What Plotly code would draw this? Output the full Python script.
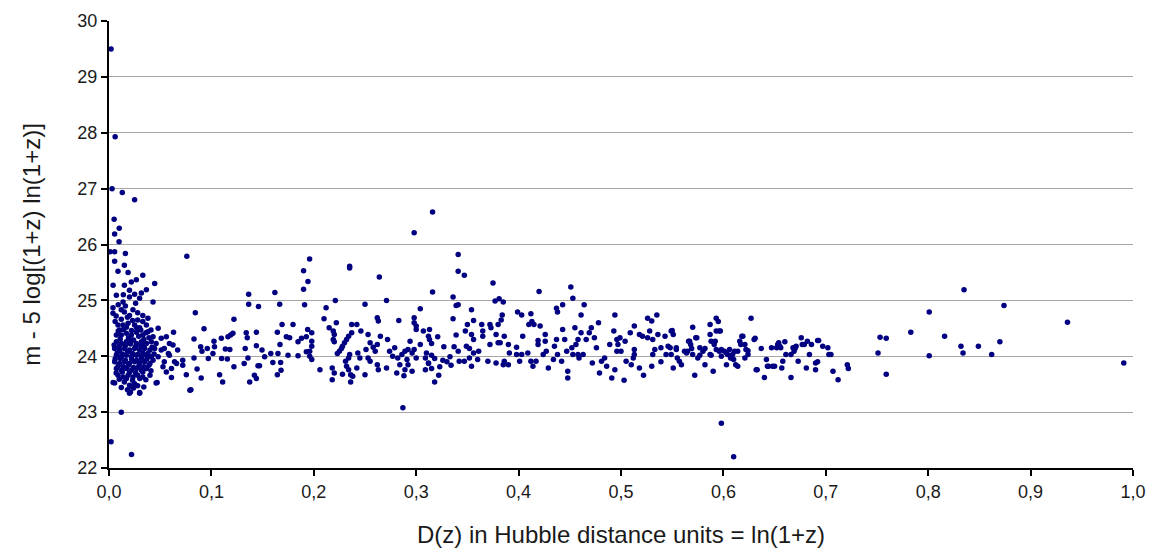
import plotly.graph_objects as go

# ---- data (x = D(z), y = m - 5 log[(1+z) ln(1+z)]) ----
outliers_top = [(0.002, 29.5), (0.006, 27.93), (0.003, 27.0), (0.013, 26.93), (0.025, 26.8),
                (0.005, 26.45), (0.010, 26.29), (0.0055, 26.19), (0.0098, 26.05)]

cluster_a = [(0.001, 25.87), (0.0055, 25.87), (0.0055, 25.7), (0.016, 25.84), (0.015, 25.63),
             (0.0088, 25.52), (0.0186, 25.5), (0.033, 25.45), (0.0267, 25.37), (0.0218, 25.33),
             (0.015, 25.27), (0.0446, 25.3), (0.004, 25.27), (0.0365, 25.19), (0.0316, 25.13),
             (0.025, 25.11), (0.020, 25.06), (0.0072, 25.09), (0.0299, 25.04), (0.043, 24.97),
             (0.0137, 24.97), (0.0039, 24.87), (0.0039, 24.77), (0.012, 24.83), (0.015, 24.79),
             (0.0234, 24.83), (0.020, 24.73), (0.033, 24.73), (0.028, 24.65), (0.0088, 24.56),
             (0.0104, 24.47), (0.0137, 24.56), (0.0186, 24.59), (0.025, 24.56), (0.0299, 24.51),
             (0.0365, 24.56), (0.048, 24.5), (0.063, 24.43)]

cluster_b = [(0.0072, 24.38), (0.012, 24.38), (0.0169, 24.41), (0.0218, 24.38), (0.0267, 24.43),
             (0.033, 24.38), (0.038, 24.44), (0.043, 24.35), (0.051, 24.32), (0.056, 24.35),
             (0.0072, 24.26), (0.012, 24.23), (0.0169, 24.26), (0.0218, 24.29), (0.0267, 24.23),
             (0.0316, 24.26), (0.0365, 24.23), (0.0413, 24.26), (0.046, 24.23), (0.059, 24.23),
             (0.0625, 24.2), (0.0055, 24.14), (0.0104, 24.11), (0.015, 24.14), (0.020, 24.11),
             (0.025, 24.14), (0.0299, 24.11), (0.0348, 24.14), (0.040, 24.11), (0.0446, 24.14),
             (0.051, 24.11), (0.054, 24.14), (0.0072, 24.02), (0.012, 23.99), (0.0169, 24.02),
             (0.0218, 23.99), (0.0267, 24.02), (0.0316, 23.99), (0.0365, 24.02), (0.0413, 23.99),
             (0.048, 23.99), (0.059, 24.02)]

cluster_c = [(0.0055, 23.9), (0.0104, 23.87), (0.015, 23.9), (0.020, 23.87), (0.025, 23.9),
             (0.0299, 23.87), (0.0348, 23.9), (0.040, 23.87), (0.054, 23.9), (0.064, 23.9),
             (0.072, 23.93), (0.0072, 23.78), (0.012, 23.75), (0.0169, 23.78), (0.0218, 23.75),
             (0.0267, 23.78), (0.0316, 23.75), (0.0365, 23.78), (0.0527, 23.81), (0.061, 23.78),
             (0.072, 23.84), (0.0088, 23.66), (0.0137, 23.63), (0.0186, 23.66), (0.0234, 23.63),
             (0.028, 23.66), (0.033, 23.63), (0.040, 23.66), (0.0755, 23.67), (0.0055, 23.52),
             (0.015, 23.54), (0.020, 23.48), (0.025, 23.51), (0.046, 23.52), (0.079, 23.39),
             (0.020, 23.34), (0.0299, 23.34), (0.012, 23.0)]

cluster_d = [(0.006, 24.62), (0.009, 24.45), (0.011, 24.31), (0.014, 24.48), (0.017, 24.52),
             (0.019, 24.33), (0.022, 24.46), (0.024, 24.29), (0.027, 24.51), (0.029, 24.36),
             (0.031, 24.47), (0.034, 24.30), (0.036, 24.42), (0.039, 24.33), (0.041, 24.47),
             (0.005, 24.20), (0.008, 24.06), (0.010, 24.18), (0.013, 24.04), (0.016, 24.19),
             (0.018, 24.07), (0.021, 24.22), (0.023, 24.05), (0.026, 24.17), (0.028, 24.03),
             (0.031, 24.19), (0.033, 24.06), (0.035, 24.21), (0.038, 24.05), (0.042, 24.16),
             (0.044, 24.04), (0.006, 23.95), (0.009, 23.83), (0.011, 23.96), (0.014, 23.81),
             (0.016, 23.93), (0.019, 23.84), (0.022, 23.95), (0.024, 23.80), (0.027, 23.93),
             (0.029, 23.82), (0.032, 23.94), (0.034, 23.81), (0.037, 23.95), (0.039, 23.84),
             (0.043, 23.93), (0.007, 23.70), (0.010, 23.59), (0.013, 23.72), (0.017, 23.60),
             (0.020, 23.71), (0.023, 23.57), (0.026, 23.70), (0.030, 23.60), (0.033, 23.72),
             (0.036, 23.58), (0.041, 23.74), (0.012, 23.44), (0.018, 23.40), (0.024, 23.43),
             (0.028, 23.47), (0.034, 23.45), (0.007, 24.72), (0.012, 24.66), (0.018, 24.70),
             (0.023, 24.64), (0.028, 24.78), (0.033, 24.62), (0.038, 24.68), (0.009, 24.92),
             (0.016, 24.90), (0.026, 24.95), (0.020, 25.18), (0.014, 25.10)]

outliers_low = [(0.002, 22.47), (0.022, 22.24), (0.004, 23.53), (0.030, 23.35), (0.021, 23.36),
                (0.022, 23.46), (0.047, 23.53)]

band_008_020 = [(0.067, 24.11), (0.066, 23.87), (0.056, 23.72), (0.061, 23.62), (0.058, 24.05),
                (0.076, 25.79), (0.0843, 24.78), (0.0928, 24.49), (0.083, 24.31), (0.083, 23.97),
                (0.086, 23.77), (0.090, 23.61), (0.0895, 24.17), (0.0908, 24.09), (0.096, 24.14),
                (0.097, 23.96), (0.1025, 24.27), (0.103, 24.17), (0.1015, 24.05), (0.1097, 24.32),
                (0.110, 23.96), (0.108, 23.67), (0.111, 23.54), (0.1136, 24.13), (0.1162, 24.35),
                (0.1188, 24.38), (0.121, 24.41), (0.122, 24.66), (0.118, 24.12), (0.1156, 23.95),
                (0.122, 23.81), (0.1364, 25.11), (0.1364, 24.93), (0.146, 24.89), (0.134, 24.42),
                (0.135, 24.33), (0.1439, 24.43), (0.133, 24.14), (0.1357, 23.97), (0.132, 23.87),
                (0.1439, 24.19), (0.1455, 23.83), (0.147, 23.83), (0.142, 23.66), (0.1439, 23.6),
                (0.1374, 23.54), (0.1494, 24.11), (0.152, 23.99), (0.158, 24.05), (0.162, 25.14),
                (0.1667, 24.93), (0.1644, 24.43), (0.169, 24.57), (0.1732, 24.35), (0.167, 24.21),
                (0.165, 24.05), (0.160, 23.89), (0.1676, 23.89), (0.1644, 23.67), (0.168, 23.75),
                (0.1748, 24.02), (0.1797, 24.57), (0.1764, 24.33), (0.1846, 24.26), (0.188, 24.32),
                (0.1927, 24.35), (0.1846, 24.01), (0.191, 24.92), (0.1959, 25.74), (0.190, 25.53),
                (0.1943, 25.34), (0.190, 25.2), (0.1927, 24.08), (0.080, 23.40)]

band_020_032 = [(0.235, 25.61), (0.235, 25.58), (0.264, 25.42), (0.298, 26.21), (0.316, 26.58),
                (0.316, 25.15), (0.221, 25.0), (0.271, 25.0), (0.250, 24.93), (0.212, 24.87),
                (0.304, 24.85), (0.210, 24.67), (0.262, 24.69), (0.263, 24.63), (0.283, 24.64),
                (0.298, 24.69), (0.298, 24.6), (0.300, 24.54), (0.300, 24.48), (0.307, 24.45),
                (0.313, 24.48), (0.222, 24.6), (0.215, 24.51), (0.219, 24.45), (0.237, 24.57),
                (0.242, 24.57), (0.246, 24.45), (0.253, 24.39), (0.220, 24.39), (0.237, 24.42),
                (0.234, 24.36), (0.232, 24.3), (0.230, 24.24), (0.228, 24.18), (0.227, 24.14),
                (0.225, 24.09), (0.223, 24.05), (0.219, 24.3), (0.220, 24.26), (0.198, 24.42),
                (0.198, 24.27), (0.198, 24.18), (0.196, 24.09), (0.196, 24.0), (0.198, 23.94),
                (0.235, 24.03), (0.234, 23.97), (0.231, 23.91), (0.232, 23.82), (0.234, 23.76),
                (0.236, 23.67), (0.206, 23.76), (0.218, 23.79), (0.220, 23.7), (0.218, 23.58),
                (0.228, 23.68), (0.236, 23.54), (0.238, 23.64), (0.243, 24.06), (0.245, 23.97),
                (0.251, 24.12), (0.253, 23.97), (0.255, 24.24), (0.260, 24.09), (0.262, 24.21),
                (0.265, 24.36), (0.258, 24.16), (0.255, 23.91), (0.262, 23.85), (0.263, 23.76),
                (0.250, 23.67), (0.242, 23.79), (0.271, 23.79), (0.272, 24.3), (0.274, 24.09),
                (0.279, 24.15), (0.282, 23.97), (0.277, 24.0), (0.281, 23.7), (0.284, 23.85),
                (0.286, 24.03), (0.289, 24.09), (0.291, 23.94), (0.292, 24.12), (0.294, 24.27),
                (0.288, 23.65), (0.289, 23.76), (0.292, 23.85), (0.296, 23.73), (0.296, 24.06),
                (0.298, 24.12), (0.300, 23.97), (0.304, 24.21), (0.310, 24.06), (0.309, 23.97),
                (0.312, 23.88), (0.309, 23.76), (0.313, 24.3), (0.312, 24.36), (0.287, 23.08),
                (0.194, 24.48)]

band_031_034 = [(0.321, 24.35), (0.315, 24.23), (0.315, 24.02), (0.318, 23.96), (0.312, 23.87),
                (0.315, 23.78), (0.323, 23.81), (0.322, 23.66), (0.318, 23.54), (0.327, 24.17),
                (0.326, 23.93), (0.330, 23.90), (0.333, 23.99), (0.334, 23.84), (0.336, 25.06),
                (0.336, 24.67), (0.337, 24.17), (0.339, 24.91), (0.339, 24.38)]

band_034_053 = [(0.341, 25.82), (0.341, 25.52), (0.347, 25.45), (0.341, 24.92), (0.375, 25.31),
                (0.377, 24.99), (0.381, 25.03), (0.385, 24.97), (0.420, 25.16), (0.451, 25.24),
                (0.453, 25.04), (0.464, 24.92), (0.437, 24.86), (0.438, 24.79), (0.443, 24.92),
                (0.461, 24.74), (0.494, 24.74), (0.354, 24.83), (0.356, 24.64), (0.350, 24.57),
                (0.348, 24.45), (0.384, 24.74), (0.383, 24.65), (0.380, 24.57), (0.399, 24.79),
                (0.403, 24.74), (0.412, 24.76), (0.413, 24.62), (0.415, 24.57), (0.410, 24.57),
                (0.421, 24.54), (0.426, 24.39), (0.426, 24.27), (0.419, 24.28), (0.364, 24.57),
                (0.365, 24.45), (0.365, 24.36), (0.372, 24.57), (0.373, 24.51), (0.378, 24.39),
                (0.386, 24.36), (0.390, 24.21), (0.372, 24.21), (0.380, 24.24), (0.382, 24.24),
                (0.356, 24.30), (0.354, 24.39), (0.349, 24.18), (0.352, 24.14), (0.356, 24.06),
                (0.352, 23.97), (0.347, 23.91), (0.354, 23.82), (0.341, 24.09), (0.342, 23.91),
                (0.360, 23.94), (0.361, 24.09), (0.370, 23.91), (0.378, 23.88), (0.385, 23.85),
                (0.390, 23.85), (0.386, 23.91), (0.391, 24.06), (0.398, 24.16), (0.398, 24.03),
                (0.403, 24.03), (0.401, 23.91), (0.404, 24.36), (0.409, 24.06), (0.412, 23.91),
                (0.414, 23.82), (0.417, 23.91), (0.419, 24.21), (0.424, 24.03), (0.427, 24.09),
                (0.429, 23.79), (0.434, 23.94), (0.435, 24.18), (0.437, 24.30), (0.438, 24.03),
                (0.442, 23.91), (0.443, 24.48), (0.445, 24.30), (0.447, 24.09), (0.448, 23.73),
                (0.448, 23.61), (0.452, 24.15), (0.453, 24.03), (0.455, 24.51), (0.456, 24.21),
                (0.458, 24.30), (0.458, 24.03), (0.459, 23.97), (0.463, 24.03), (0.461, 24.42),
                (0.466, 24.30), (0.469, 24.42), (0.471, 24.51), (0.474, 24.33), (0.478, 24.60),
                (0.472, 23.88), (0.476, 24.15), (0.479, 23.70), (0.481, 23.91), (0.484, 23.97),
                (0.486, 23.82), (0.489, 24.21), (0.491, 23.61), (0.493, 24.45), (0.494, 23.76),
                (0.496, 24.30), (0.497, 24.21), (0.499, 24.33), (0.496, 24.09), (0.500, 24.09),
                (0.503, 23.57), (0.504, 24.27), (0.505, 23.91), (0.509, 24.42), (0.510, 23.85),
                (0.513, 24.54), (0.513, 24.12), (0.513, 24.03), (0.512, 23.97), (0.518, 24.39),
                (0.521, 24.36), (0.518, 23.79), (0.522, 23.66)]

band_053_072 = [(0.526, 24.68), (0.530, 24.63), (0.535, 24.74), (0.528, 24.45), (0.526, 24.33),
                (0.531, 24.30), (0.533, 24.12), (0.531, 24.03), (0.530, 23.82), (0.536, 24.39),
                (0.539, 24.15), (0.539, 23.90), (0.543, 24.36), (0.544, 24.03), (0.548, 24.15),
                (0.549, 24.45), (0.551, 24.39), (0.549, 24.03), (0.551, 23.79), (0.554, 24.15),
                (0.555, 23.97), (0.557, 23.91), (0.559, 23.85), (0.562, 24.09), (0.565, 24.09),
                (0.567, 24.27), (0.568, 24.21), (0.570, 24.52), (0.570, 24.03), (0.572, 23.66),
                (0.573, 24.33), (0.575, 23.97), (0.577, 24.15), (0.580, 24.09), (0.582, 23.85),
                (0.587, 24.57), (0.587, 24.39), (0.587, 24.03), (0.588, 24.27), (0.590, 23.73),
                (0.591, 24.21), (0.593, 24.68), (0.595, 24.62), (0.593, 24.45), (0.596, 24.45),
                (0.593, 24.12), (0.596, 24.09), (0.598, 24.00), (0.601, 24.09), (0.603, 23.85),
                (0.604, 24.03), (0.606, 24.12), (0.607, 23.97), (0.609, 24.03), (0.610, 23.94),
                (0.612, 23.85), (0.614, 23.82), (0.614, 24.09), (0.617, 24.21), (0.619, 24.36),
                (0.621, 23.97), (0.624, 24.03), (0.622, 24.12), (0.627, 24.68), (0.630, 24.30),
                (0.632, 23.76), (0.633, 23.76), (0.637, 24.14), (0.640, 23.62), (0.642, 23.94),
                (0.643, 23.82), (0.647, 24.15), (0.648, 23.82), (0.652, 24.15), (0.654, 24.24),
                (0.655, 24.18), (0.657, 23.79), (0.658, 23.91), (0.660, 24.26), (0.661, 24.03),
                (0.666, 23.62), (0.666, 24.03), (0.668, 24.15), (0.669, 24.09), (0.671, 24.18),
                (0.673, 23.91), (0.676, 24.33), (0.677, 24.21), (0.681, 23.79), (0.682, 24.27),
                (0.684, 24.03), (0.686, 24.21), (0.690, 23.88), (0.690, 23.76), (0.692, 24.28),
                (0.697, 24.18), (0.702, 24.15), (0.703, 24.03), (0.707, 23.73), (0.712, 23.58),
                (0.598, 22.80), (0.610, 22.20)]

band_dense_extra = [(0.546, 24.18), (0.550, 24.46), (0.554, 24.12), (0.564, 24.06), (0.566, 24.27),
                    (0.569, 24.14), (0.574, 24.33), (0.577, 24.02), (0.582, 24.14), (0.588, 24.02),
                    (0.592, 24.27), (0.597, 24.45), (0.598, 24.12), (0.603, 24.06), (0.608, 23.97),
                    (0.611, 24.09), (0.616, 24.27), (0.618, 24.36), (0.621, 24.21), (0.624, 24.10),
                    (0.631, 24.32), (0.644, 23.82), (0.650, 23.82), (0.653, 24.21), (0.656, 24.15),
                    (0.670, 24.14), (0.679, 24.21), (0.692, 23.90), (0.693, 24.28), (0.705, 24.03)]

tail = [(0.721, 23.85), (0.722, 23.78), (0.751, 24.06), (0.753, 24.34), (0.759, 24.32),
        (0.759, 23.68), (0.783, 24.43), (0.801, 24.79), (0.801, 24.01), (0.816, 24.36),
        (0.832, 24.18), (0.834, 24.06), (0.835, 25.19), (0.849, 24.18), (0.862, 24.03),
        (0.870, 24.26), (0.874, 24.91), (0.936, 24.61), (0.991, 23.88)]

x_tick_vals = [0.0, 0.1, 0.2, 0.3, 0.4, 0.5, 0.6, 0.7, 0.8, 0.9, 1.0]
x_tick_text = ["0,0", "0,1", "0,2", "0,3", "0,4", "0,5", "0,6", "0,7", "0,8", "0,9", "1,0"]
y_tick_vals = [22, 23, 24, 25, 26, 27, 28, 29, 30]

x_title = "D(z) in Hubble distance units = ln(1+z)"
y_title = "m - 5 log[(1+z) ln(1+z)]"

all_pts = (outliers_top + cluster_a + cluster_b + cluster_c + cluster_d + outliers_low +
           band_008_020 + band_020_032 + band_031_034 + band_034_053 + band_053_072 +
           band_dense_extra + tail)
xs = [p[0] for p in all_pts]
ys = [p[1] for p in all_pts]

fig = go.Figure()
fig.add_trace(go.Scatter(
    x=xs, y=ys, mode="markers",
    marker=dict(color="#000080", size=5.5, line=dict(width=0)),
    showlegend=False, cliponaxis=False,
))

font_family = "Liberation Sans, Arial, sans-serif"
fig.update_layout(
    width=1154, height=551,
    margin=dict(l=101, r=29, t=13, b=91, autoexpand=False),
    paper_bgcolor="white", plot_bgcolor="white",
    font=dict(family=font_family, size=18, color="#1a1a1a"),
    xaxis=dict(
        range=[0, 1], tickvals=x_tick_vals, ticktext=x_tick_text,
        showgrid=False, zeroline=False,
        showline=True, linecolor="black", linewidth=2,
        ticks="outside", ticklen=6, tickwidth=2, tickcolor="black",
        tickfont=dict(size=18),
        title=dict(text=x_title, font=dict(size=24), standoff=26),
    ),
    yaxis=dict(
        range=[22, 30], tickvals=y_tick_vals,
        showgrid=True, gridcolor="#a6a6a6", gridwidth=1, zeroline=False,
        showline=True, linecolor="black", linewidth=2,
        ticks="outside", ticklen=6, tickwidth=2, tickcolor="black",
        tickfont=dict(size=18),
        title=dict(text=y_title, font=dict(size=24), standoff=30),
    ),
)

fig.write_html("out.html")
